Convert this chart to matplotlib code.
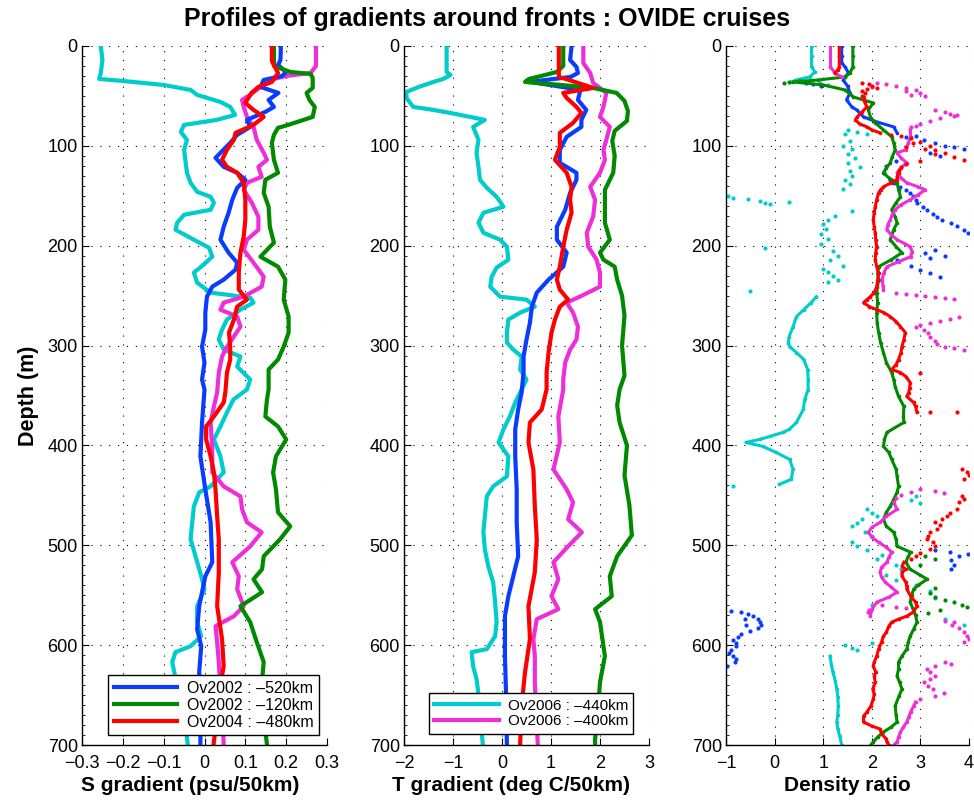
import numpy as np
import matplotlib
matplotlib.use("Agg")
import matplotlib.pyplot as plt
from matplotlib.ticker import MultipleLocator

plt.rcParams['font.family'] = ['Liberation Sans', 'DejaVu Sans']

# ---------------- colours / labels ----------------
C_BLUE = '#0a3cff'
C_GREEN = '#008a00'
C_RED = '#ff0000'
C_CYAN = '#00cccc'
C_MAG = '#ee2ed8'

LBL_BLUE = 'Ov2002 : \u2013520km'
LBL_GREEN = 'Ov2002 : \u2013120km'
LBL_RED = 'Ov2004 : \u2013480km'
LBL_CYAN = 'Ov2006 : \u2013440km'
LBL_MAG = 'Ov2006 : \u2013400km'

TITLE = 'Profiles of gradients around fronts : OVIDE cruises'
XLABELS = ['S gradient (psu/50km)', 'T gradient (deg C/50km)', 'Density ratio']
YLABEL = 'Depth (m)'

# ---------------- S gradient ----------------
S_CYAN_Z = [0,14,27,33,35,39,44,49,56,61,69,74,79,86,94,104,114,127,137,146,151,157,164,169,177,184,194,202,211,221,227,237,247,252,257,264,274,284,294,304,311,321,334,344,354,367,381,394,411,427,441,447,461,477,494,511,531,544,561,577,591,601,607,617,635,650,670,685,700]
S_CYAN_V = [-0.254,-0.25,-0.254,-0.258,-0.2,-0.1,-0.034,-0.018,0.039,0.063,0.075,0.03,-0.05,-0.058,-0.043,-0.05,-0.047,-0.043,-0.034,-0.018,0.015,0.023,0.015,-0.05,-0.067,-0.071,-0.026,0.011,0.019,-0.008,-0.026,-0.018,0.015,0.112,0.12,0.088,0.055,0.043,0.035,0.047,0.088,0.08,0.112,0.104,0.071,0.055,0.039,0.023,0.039,0.047,0.015,-0.013,-0.026,-0.03,-0.034,-0.022,-0.008,0.0,-0.018,-0.018,-0.008,-0.034,-0.071,-0.079,-0.07,-0.06,-0.05,-0.045,-0.041]

S_BLUE_Z = [0,14,19,26,30,34,41,47,54,61,66,74,81,89,97,107,112,121,127,134,142,154,167,181,194,207,217,224,234,241,251,267,284,301,317,334,344,377,411,444,477,517,531,561,584,601,627,660,700]
S_BLUE_V = [0.187,0.186,0.18,0.2,0.19,0.145,0.137,0.181,0.157,0.17,0.149,0.104,0.112,0.08,0.063,0.039,0.027,0.047,0.08,0.1,0.08,0.068,0.059,0.047,0.039,0.059,0.08,0.076,0.047,0.019,0.006,0.002,0.002,-0.006,0.0,-0.006,0.0,-0.006,-0.01,0.002,0.015,0.019,0.002,-0.013,-0.018,-0.008,-0.013,-0.01,-0.01]

S_GREEN_Z = [0,10,20,26,28,32,42,47,54,61,71,79,82,89,97,114,127,134,147,161,181,197,211,221,234,254,271,287,301,314,324,344,354,371,381,394,411,427,444,467,481,494,511,524,534,547,561,577,597,617,640,670,700]
S_GREEN_V = [0.17,0.17,0.17,0.21,0.26,0.265,0.265,0.25,0.257,0.27,0.265,0.205,0.18,0.17,0.165,0.17,0.18,0.149,0.145,0.157,0.16,0.17,0.137,0.18,0.198,0.194,0.206,0.206,0.194,0.18,0.157,0.157,0.153,0.149,0.18,0.2,0.175,0.168,0.175,0.18,0.21,0.185,0.145,0.141,0.12,0.141,0.088,0.112,0.128,0.145,0.14,0.145,0.153]

S_RED_Z = [0,15,27,36,41,47,57,64,71,79,87,94,104,114,121,127,137,154,174,191,207,227,244,254,261,274,287,301,314,327,347,357,371,381,394,411,427,444,471,494,527,561,594,621,650,680,700]
S_RED_V = [0.165,0.165,0.18,0.165,0.132,0.115,0.1,0.12,0.145,0.12,0.076,0.072,0.055,0.043,0.055,0.08,0.096,0.1,0.1,0.096,0.088,0.084,0.084,0.104,0.08,0.072,0.06,0.063,0.063,0.055,0.051,0.047,0.023,0.004,0.004,0.015,0.023,0.027,0.031,0.035,0.035,0.031,0.043,0.047,0.035,0.028,0.022]

S_MAG_Z = [0,20,27,30,34,41,49,54,61,71,81,94,107,114,121,131,137,144,157,171,184,194,204,217,231,241,251,257,264,271,281,291,304,311,327,347,361,377,404,427,441,451,464,477,487,501,517,531,544,561,571,581,597,617,650,680,700]
S_MAG_V = [0.273,0.273,0.26,0.2,0.16,0.137,0.112,0.092,0.096,0.104,0.12,0.128,0.145,0.153,0.132,0.14,0.104,0.096,0.116,0.132,0.132,0.104,0.096,0.12,0.145,0.14,0.096,0.047,0.039,0.08,0.088,0.072,0.051,0.043,0.035,0.031,0.023,0.015,0.019,0.019,0.047,0.088,0.092,0.104,0.14,0.112,0.068,0.084,0.08,0.096,0.072,0.027,0.031,0.035,0.04,0.045,0.047]

# ---------------- T gradient ----------------
T_CYAN_Z = [0,14,26,29,33,36,41,46,52,61,64,67,74,81,94,107,121,134,142,151,161,167,177,187,194,201,214,222,231,241,251,254,261,267,274,287,297,304,311,324,334,347,357,371,384,397,411,431,441,451,471,487,504,521,537,557,577,591,604,607,621,634,660,685,700]
T_CYAN_V = [-1.13,-1.13,-1.13,-1.05,-1.2,-1.4,-1.7,-1.95,-1.95,-1.81,-1.4,-1.06,-0.35,-0.59,-0.48,-0.52,-0.48,-0.45,-0.31,-0.11,0.03,-0.38,-0.48,-0.38,-0.04,0.1,0.13,-0.11,-0.21,-0.24,-0.04,0.5,0.67,0.37,0.13,0.1,0.1,0.23,0.4,0.37,0.5,0.37,0.27,0.16,0.03,-0.07,0.13,0.1,-0.18,-0.31,-0.35,-0.38,-0.35,-0.28,-0.18,-0.14,-0.11,-0.14,-0.31,-0.62,-0.59,-0.52,-0.45,-0.42,-0.39]

T_BLUE_Z = [0,14,21,27,31,34,36,40,44,54,64,74,81,91,104,117,127,134,147,164,181,194,207,221,234,247,261,277,294,311,327,347,364,384,411,444,477,511,531,551,571,584,611,644,700]
T_BLUE_V = [1.42,1.39,1.52,1.55,1.4,0.9,0.58,1.1,1.6,1.55,1.72,1.62,1.62,1.32,1.18,1.18,1.52,1.52,1.39,1.29,1.12,1.12,1.32,1.25,0.95,0.71,0.61,0.57,0.5,0.44,0.44,0.4,0.33,0.27,0.27,0.3,0.3,0.33,0.23,0.13,0.06,0.06,0.06,0.08,0.1]

T_GREEN_Z = [0,20,26,30,33,36,39,42,47,55,65,75,85,95,110,127,144,161,177,194,207,214,221,234,250,270,300,330,344,360,377,400,430,460,490,511,531,551,564,577,611,637,670,694,700]
T_GREEN_V = [1.25,1.25,1.12,0.8,0.55,0.47,1.2,1.86,2.34,2.5,2.57,2.55,2.3,2.25,2.3,2.27,2.1,2.1,2.1,2.2,2.0,2.07,2.3,2.35,2.45,2.5,2.45,2.5,2.4,2.35,2.4,2.55,2.5,2.6,2.65,2.35,2.2,2.24,1.9,2.0,2.1,2.0,1.95,1.9,1.9]

T_RED_Z = [0,20,31,33,37,42,47,52,61,67,77,87,101,114,127,141,154,167,184,201,221,234,244,254,261,274,287,307,327,344,364,377,397,424,461,494,527,561,594,627,661,700]
T_RED_V = [1.16,1.16,1.16,1.3,1.55,1.86,1.25,1.32,1.52,1.62,1.45,1.18,1.18,1.08,1.32,1.42,1.39,1.42,1.32,1.25,1.18,1.12,1.18,1.35,1.18,1.08,1.01,0.95,0.91,0.91,0.81,0.57,0.54,0.64,0.67,0.71,0.67,0.54,0.57,0.47,0.4,0.37]

T_MAG_Z = [0,17,27,37,47,61,71,81,94,104,114,127,141,154,171,187,201,214,227,241,251,257,267,281,294,304,317,334,344,371,397,424,444,457,474,487,501,517,534,551,564,574,594,611,637,700]
T_MAG_V = [1.66,1.66,1.8,1.86,2.13,2.07,2.0,2.2,2.13,2.07,2.1,2.0,1.8,1.9,1.86,1.73,1.76,1.93,2.0,2.0,1.59,1.32,1.45,1.55,1.52,1.39,1.29,1.25,1.25,1.15,1.18,1.05,1.32,1.45,1.35,1.63,1.35,1.05,1.15,1.01,1.15,0.71,0.64,0.67,0.67,0.73]

# ---------------- Density ratio (continuous traces, NaN = gap) ----------------
N = np.nan
R_CYAN_Z = [0,10,21,26,31,34,36,N,251,257,264,271,281,291,297,301,307,314,324,334,344,354,364,377,384,387,391,394,397,401,407,414,424,434,439,N,611,620,627,636,644,652,661,670,677,684,691,700]
R_CYAN_V = [0.76,0.76,0.76,0.83,0.72,0.45,0.34,N,0.86,0.75,0.6,0.45,0.38,0.3,0.28,0.31,0.45,0.6,0.68,0.69,0.69,0.62,0.59,0.45,0.3,0.17,-0.1,-0.31,-0.59,-0.24,0.03,0.31,0.38,0.34,0.1,N,1.14,1.17,1.2,1.25,1.28,1.3,1.31,1.3,1.28,1.3,1.34,1.38]
R_CYAN_DZ = [37,39,84,86,88,95,100,103,108,112,117,121,125,130,134,138,143,88,150,152,153,155,157,158,156,165,170,174,178,183,188,193,198,202,205,210,214,220,223,226,230,234,236,245,441,451,455,458,464,468,471,474,478,481,487,491,497,501,505,510,514,520,524,530,535,540,546,553,560,567,574,580,600,603,605,598]
R_CYAN_DV = [0.93,1.1,1.5,1.7,1.45,1.55,1.4,1.6,1.5,1.65,1.5,1.75,1.55,1.6,1.45,1.55,1.4,1.9,-0.95,-0.85,-0.55,-0.3,-0.2,-0.1,0.3,1.6,1.25,1.1,1.0,1.05,0.95,1.1,0.95,-0.2,1.2,1.3,1.15,1.4,1.0,1.1,1.2,1.3,1.1,-0.5,-0.86,2.9,2.8,3.0,1.9,2.0,2.1,1.8,1.7,1.6,1.85,2.0,1.6,1.7,1.9,2.2,2.1,2.5,2.6,2.3,2.5,2.9,3.2,3.3,2.0,1.95,3.5,3.9,1.45,1.6,1.7,2.0]

R_BLUE_Z = [0,10,17,21,27,31,34,40,47,54,61,64,71,76,81,87]
R_BLUE_V = [1.38,1.38,1.38,1.45,1.52,1.45,1.41,1.5,1.55,1.48,1.59,1.69,1.83,2.1,2.45,2.52]
R_BLUE_DZ = [35,37,38,40,91,94,97,100,101,103,107,110,90,115,120,127,134,137,141,144,147,150,154,157,161,164,168,171,174,177,180,184,187,204,207,210,212,214,220,224,227,231,505,507,509,511,515,520,524,566,567,569,571,574,577,580,583,586,589,592,595,598,601,605,608,611,614,617,621,580,574]
R_BLUE_DV = [0.5,0.65,0.8,0.95,2.7,3.07,3.3,3.5,3.7,3.9,3.2,3.4,2.9,2.5,2.3,2.25,2.38,2.45,2.59,2.7,2.79,2.85,2.9,2.93,3.05,3.14,3.25,3.34,3.45,3.62,3.75,3.9,3.97,3.3,3.1,3.5,3.2,2.52,2.8,3.0,3.2,3.4,3.3,3.6,3.97,3.8,3.62,3.7,3.62,-0.9,-0.7,-0.55,-0.45,-0.35,-0.3,-0.28,-0.35,-0.5,-0.7,-0.75,-0.85,-0.8,-0.79,-0.9,-0.93,-0.85,-0.8,-0.82,-0.97,-0.58,-0.6]

R_GREEN_Z = [0,10,21,27,31,34,36,39,44,51,57,64,71,77,84,91,97,104,111,117,122,127,132,137,144,151,157,164,171,177,184,194,201,207,214,221,227,234,247,257,267,277,287,297,307,317,327,334,341,351,361,371,377,387,394,401,407,414,424,431,441,447,454,461,467,474,481,487,494,501,507,511,517,524,530,534,540,544,550,557,564,570,577,584,591,597,604,611,617,624,631,637,644,651,661,670,677,682,687,692,697,700]
R_GREEN_V = [1.61,1.61,1.61,1.55,1.45,0.9,0.38,1.0,1.45,1.62,2.03,1.93,1.97,2.07,2.24,2.41,2.45,2.48,2.42,2.38,2.3,2.24,2.35,2.52,2.55,2.59,2.5,2.41,2.48,2.52,2.45,2.38,2.5,2.62,2.4,2.14,2.12,2.14,2.1,2.12,2.1,2.11,2.14,2.18,2.24,2.3,2.41,2.45,2.48,2.55,2.66,2.65,2.66,2.31,2.26,2.24,2.35,2.41,2.5,2.52,2.55,2.52,2.45,2.38,2.3,2.24,2.3,2.45,2.5,2.52,2.8,2.75,2.7,2.79,3.0,3.14,2.95,2.86,2.82,2.79,2.85,2.9,2.93,2.86,2.79,2.75,2.72,2.62,2.55,2.55,2.52,2.57,2.62,2.56,2.48,2.5,2.52,2.4,2.24,2.12,2.03,1.98]
R_GREEN_DZ = [36,37,35,511,514,520,548,552,555,557,560,562,565,568,543]
R_GREEN_DV = [0.3,0.2,0.5,3.1,3.3,3.0,3.2,3.3,3.5,3.7,3.85,3.95,3.4,3.15,3.3]

R_RED_Z = [0,10,21,24,27,N,51,56,61,66,71,74,78,81,84,87,N,127,131,134,137,141,144,147,154,161,167,174,181,187,194,201,207,214,221,227,234,241,247,251,254,257,261,264,267,271,276,281,287,294,301,307,314,319,324,327,331,337,342,347,351,357,361,367,N,517,521,524,527,531,537,541,544,551,557,561,567,571,574,577,581,587,591,597,604,611,617,621,627,631,637,644,649,654,661,667,671,677,681,684,689,694,697,700]
R_RED_V = [1.33,1.33,1.33,1.3,1.24,N,1.83,1.85,1.9,1.8,1.7,1.66,1.75,1.9,2.0,2.17,N,2.55,2.52,2.52,2.4,2.24,2.18,2.14,2.1,2.07,2.05,2.03,2.05,2.07,2.08,2.1,2.08,2.07,2.1,2.14,2.12,2.1,2.05,1.97,1.9,1.83,1.95,2.1,2.25,2.38,2.5,2.59,2.69,2.66,2.62,2.6,2.55,2.5,2.41,2.59,2.7,2.79,2.78,2.76,2.72,2.86,2.9,2.93,N,2.66,2.62,2.7,2.62,2.62,2.7,2.72,2.72,2.8,2.9,2.93,2.85,2.72,2.55,2.41,2.35,2.3,2.24,2.2,2.14,2.1,2.05,2.03,2.08,2.05,2.07,2.02,2.05,2.03,1.98,1.9,1.83,1.83,2.0,2.17,2.2,2.3,2.31,2.35]
R_RED_DZ = [37,38,40,43,45,47,50,42,89,90,92,96,100,104,107,111,114,97,101,103,108,115,118,121,124,367,367,327,424,427,430,434,451,454,457,464,468,471,474,477,480,484,487,491,494,497,501,504,508,511,514]
R_RED_DV = [1.8,1.95,2.0,1.9,1.8,1.85,1.8,2.1,2.4,2.6,2.8,3.0,3.2,3.3,3.5,3.7,3.9,2.85,2.7,3.1,3.3,3.0,2.7,2.6,2.55,3.2,3.76,3.0,3.85,3.95,4.0,3.9,3.85,3.9,3.8,3.76,3.6,3.55,3.45,3.3,3.41,3.35,3.2,3.15,3.14,3.25,3.3,3.2,3.0,2.9,2.8]

R_MAG_Z = [0,10,21,27,31,N,84,91,97,104,107,112,117,122,127,132,137,141,144,149,154,159,164,169,174,179,184,189,194,198,201,206,211,216,221,227,234,240,244,N,457,464,471,477,482,487,492,497,502,507,512,517,522,527,532,537,542,547,552,557,564,571,N,657,661,667,672,677,682,687,692,697,700]
R_MAG_V = [1.15,1.15,1.15,1.24,1.38,N,2.79,2.8,2.75,2.7,2.52,2.6,2.72,2.6,2.52,2.6,2.72,2.95,3.1,2.95,2.79,2.6,2.48,2.42,2.38,2.33,2.31,2.4,2.52,2.68,2.79,2.83,2.8,2.55,2.31,2.25,2.21,2.23,2.24,N,2.45,2.52,2.3,2.17,2.0,1.93,2.0,2.14,2.3,2.41,2.35,2.31,2.2,2.17,2.2,2.28,2.4,2.52,2.35,2.1,2.0,1.97,N,2.9,2.86,2.8,2.76,2.72,2.65,2.59,2.55,2.52,2.45]
R_MAG_DZ = [37,38,40,42,44,47,49,45,50,41,64,66,68,70,72,75,78,80,81,69,247,248,249,250,251,252,253,271,273,275,277,279,281,284,287,291,295,298,301,302,304,444,447,450,453,446,448,560,562,563,565,567,576,580,583,587,591,594,597,577,617,619,621,624,627,631,634,637,641,644,648,651,654]
R_MAG_DV = [2.1,2.3,2.5,2.7,2.9,3.0,2.8,2.7,3.1,2.0,3.3,3.5,3.6,3.7,3.4,3.2,3.0,2.9,2.8,3.76,2.5,2.7,2.9,3.1,3.3,3.5,3.7,3.8,3.6,3.4,3.2,3.0,2.9,3.07,3.15,3.2,3.3,3.34,3.5,3.7,3.9,3.0,2.8,2.6,2.5,3.3,3.48,2.2,2.5,2.7,1.95,1.93,3.5,3.65,3.8,3.9,3.95,4.0,3.9,3.7,3.5,3.62,3.3,3.14,3.2,3.3,3.2,3.07,3.15,3.25,3.48,3.3,3.0]

# ---------------- figure ----------------
fig = plt.figure(figsize=(9.74, 8.0), dpi=100)
W, H = 974.0, 800.0
y0, y1 = 745.0, 46.0
panels_px = [(82, 327), (404, 649), (726, 969)]
xlims = [(-0.3, 0.3), (-2, 3), (-1, 4)]
xsteps = [0.1, 1, 1]
xlabel_pos = [0.44, 0.437, 0.5]
axes = []
for (xa, xb), xl, st in zip(panels_px, xlims, xsteps):
    ax = fig.add_axes([xa / W, 1 - y0 / H, (xb - xa) / W, (y0 - y1) / H])
    ax.set_xlim(*xl)
    ax.set_ylim(700, 0)
    ax.xaxis.set_major_locator(MultipleLocator(st))
    ax.yaxis.set_major_locator(MultipleLocator(100))
    ax.yaxis.set_minor_locator(MultipleLocator(10))
    ax.spines['top'].set_visible(False)
    ax.spines['right'].set_visible(False)
    for s in ('left', 'bottom'):
        ax.spines[s].set_linewidth(1.0)
    ax.tick_params(which='major', direction='in', length=5, width=0.8, labelsize=13)
    ax.tick_params(which='major', axis='x', pad=7)
    ax.tick_params(which='major', axis='y', pad=3)
    ax.tick_params(which='minor', axis='y', direction='in', length=2.5, width=0.6)
    ax.grid(True, which='major', linestyle=(0, (1.0, 7)), color='k', linewidth=0.8)
    axes.append(ax)

ax1, ax2, ax3 = axes
lw = 3.0
ax1.plot(S_CYAN_V, S_CYAN_Z, color=C_CYAN, lw=lw)
ax1.plot(S_MAG_V, S_MAG_Z, color=C_MAG, lw=lw)
l1 = ax1.plot(S_BLUE_V, S_BLUE_Z, color=C_BLUE, lw=lw, label=LBL_BLUE)[0]
l2 = ax1.plot(S_GREEN_V, S_GREEN_Z, color=C_GREEN, lw=lw, label=LBL_GREEN)[0]
l3 = ax1.plot(S_RED_V, S_RED_Z, color=C_RED, lw=lw, label=LBL_RED)[0]
ax1.xaxis.set_major_formatter(matplotlib.ticker.FuncFormatter(
    lambda v, p: ('0' if abs(v) < 1e-9 else ('%.1f' % v).replace('-', '\u2212'))))

l4 = ax2.plot(T_CYAN_V, T_CYAN_Z, color=C_CYAN, lw=lw, label=LBL_CYAN)[0]
l5 = ax2.plot(T_MAG_V, T_MAG_Z, color=C_MAG, lw=lw, label=LBL_MAG)[0]
ax2.plot(T_BLUE_V, T_BLUE_Z, color=C_BLUE, lw=lw)
ax2.plot(T_GREEN_V, T_GREEN_Z, color=C_GREEN, lw=lw)
ax2.plot(T_RED_V, T_RED_Z, color=C_RED, lw=lw)

for tz, tv, dz, dv, c in [
    (R_CYAN_Z, R_CYAN_V, R_CYAN_DZ, R_CYAN_DV, C_CYAN),
    (R_BLUE_Z, R_BLUE_V, R_BLUE_DZ, R_BLUE_DV, C_BLUE),
    (R_GREEN_Z, R_GREEN_V, R_GREEN_DZ, R_GREEN_DV, C_GREEN),
    (R_MAG_Z, R_MAG_V, R_MAG_DZ, R_MAG_DV, C_MAG),
    (R_RED_Z, R_RED_V, R_RED_DZ, R_RED_DV, C_RED),
]:
    ax3.plot(tv, tz, color=c, lw=2.2, marker='o', ms=2.6, mew=0)
    ax3.plot(dv, dz, color=c, ls='none', marker='o', ms=3.0, mew=0)

for ax, xl, xp in zip(axes, XLABELS, xlabel_pos):
    ax.set_xlabel(xl, fontsize=15, fontweight='bold')
    ax.xaxis.set_label_coords(xp, -0.044)
ax1.set_ylabel(YLABEL, fontsize=15.5, fontweight='bold', labelpad=6)

leg_kw = dict(loc='lower left', borderaxespad=0, frameon=True, fancybox=False,
              edgecolor='k', framealpha=1, handletextpad=0.6,
              labelspacing=0.12, borderpad=0.35)
leg1 = ax1.legend(handles=[l1, l2, l3], bbox_to_anchor=(0.106, 0.014),
                  fontsize=11.5, handlelength=4.0, **leg_kw)
leg1.get_frame().set_linewidth(1.0)
leg2 = ax2.legend(handles=[l4, l5], bbox_to_anchor=(0.102, 0.016),
                  fontsize=11.0, handlelength=4.2, **leg_kw)
leg2.get_frame().set_linewidth(1.0)

fig.text(0.5, 1 - 19 / H, TITLE, ha='center', va='center', fontsize=18, fontweight='bold')

fig.savefig('out.png', dpi=100)
